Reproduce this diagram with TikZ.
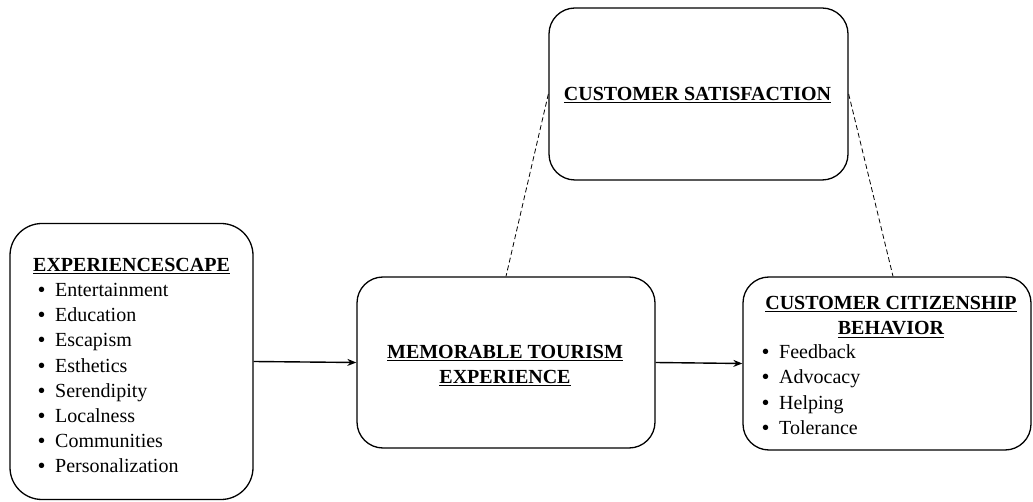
\documentclass[tikz,border=0pt]{standalone}
\usepackage{fontspec}
\setmainfont{Liberation Serif}
\usetikzlibrary{arrows.meta,calc}
\newcommand{\bul}{\makebox[17pt][l]{\textbf{•}}}
\newcommand{\ulh}[1]{\underline{#1}}
\begin{document}
\begin{tikzpicture}[x=1pt,y=-1pt,
  box/.style={draw,line width=1.3pt,rounded corners=26pt,inner sep=0pt},
  txt/.style={font=\fontsize{20}{25}\selectfont,inner sep=0pt,anchor=base west},
  hd/.style={font=\fontsize{20}{25}\selectfont\bfseries,inner sep=0pt,anchor=base},
  arr/.style={line width=1.4pt,-{Stealth[length=9pt,width=7pt]}},
  dsh/.style={line width=0.8pt,dash pattern=on 5pt off 3pt}]
\useasboundingbox (0,0) rectangle (1033,502);
% boxes
\node[box,rounded corners=32pt,minimum width=243pt,minimum height=276pt] (exp) at (131.5,361.5) {};
\node[box,minimum width=298pt,minimum height=171pt] (me) at (506,362.5) {};
\node[box,minimum width=299pt,minimum height=172pt] (cs) at (698.5,94) {};
\node[box,minimum width=288pt,minimum height=173pt] (cb) at (887,363.5) {};
% experiencescape text
\node[txt,font=\fontsize{20}{25}\selectfont\bfseries] (exph) at (33,272) {\ulh{EXPERIENCESCAPE}};
\foreach \t [count=\i from 0] in {Entertainment,Education,Escapism,Esthetics,Serendipity,Localness,Communities,Personalization}
  \node[txt] (exp\i) at (38,{297+25*\i}) {\bul\t};
% memorable tourism experience
\node[hd] (meh1) at (505,359) {\ulh{MEMORABLE TOURISM}};
\node[hd] (meh2) at (505,384) {\ulh{EXPERIENCE}};
% customer satisfaction
\node[hd] (csh) at (697.5,101) {\ulh{CUSTOMER SATISFACTION}};
% customer citizenship behavior
\node[hd] (cbh1) at (891,310) {\ulh{CUSTOMER CITIZENSHIP}};
\node[hd] (cbh2) at (891,335) {\ulh{BEHAVIOR}};
\foreach \t [count=\i from 0] in {Feedback,Advocacy,Helping,Tolerance}
  \node[txt] (cb\i) at (762,{359+25*\i}) {\bul\t};
% connectors
\draw[arr] (exp.east) -- (me.west);
\draw[arr] (me.east) -- (cb.west);
\draw[dsh] (cs.west) -- (me.north);
\draw[dsh] (cs.east) -- ($(cb.north)+(6,0)$);
\end{tikzpicture}
\end{document}
